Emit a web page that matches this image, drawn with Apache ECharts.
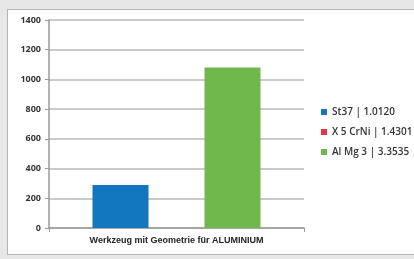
<!DOCTYPE html>
<html>
<head>
	<meta charset="utf-8" />
	<title>Werkzeug</title>
	<script src="https://cdn.jsdelivr.net/npm/echarts@6/dist/echarts.min.js"></script>
	<style>
		* { margin: 0; padding: 0; }
		html, body { width: 414px; height: 259px; background: #e7e7e7; overflow: hidden; }
		.frame {
			position: absolute; left: 7px; top: 9px; width: 420px; height: 244px;
			background: #fff; border: 1px solid #b4b4b4;
		}
		#main { position: absolute; left: 0; top: 0; width: 414px; height: 259px; }
	</style>
</head>
<body>
	<div class="frame"></div>
	<div id="main"></div>
	<script>
		// Daten
		var categories = ['Werkzeug mit Geometrie für ALUMINIUM'];
		var seriesNames = ['St37 | 1.0120', 'X 5 CrNi | 1.4301', 'Al Mg 3 | 3.3535'];
		var seriesColors = ['#1377bf', '#e5373c', '#70b84b'];
		var st37 = [290];
		var crni = [0];
		var almg = [1080];

		var chart = echarts.init(document.getElementById('main'));
		var values = [st37, crni, almg];
		var series = [];
		for (var i = 0; i < seriesNames.length; i++) {
			series.push({
				name: seriesNames[i],
				type: 'bar',
				barWidth: 56,
				barGap: '0%',
				itemStyle: { color: seriesColors[i] },
				data: values[i]
			});
		}

		var option = {
			animation: false,
			legend: {
				orient: 'vertical',
				left: 316,
				top: 102,
				itemWidth: 6,
				itemHeight: 6,
				itemGap: 10,
				icon: 'rect',
				textStyle: { fontSize: 10, color: '#333', fontFamily: 'Open Sans', fontWeight: 600 },
				data: seriesNames
			},
			grid: { left: 49, right: 110, top: 20, bottom: 31 },
			xAxis: {
				type: 'category',
				data: categories,
				axisLine: { lineStyle: { color: '#999', width: 1.5 } },
				axisTick: { show: true, length: 4, lineStyle: { color: '#999' } },
				axisLabel: { fontSize: 9, color: '#222', fontFamily: 'Liberation Sans', fontWeight: 'bold', margin: 8 }
			},
			yAxis: {
				type: 'value',
				min: 0,
				max: 1400,
				interval: 200,
				axisLine: { show: true, lineStyle: { color: '#999', width: 1.5 } },
				axisTick: { show: true, length: 4, lineStyle: { color: '#999' } },
				axisLabel: {
					fontSize: 9, color: '#333', fontFamily: 'Open Sans', fontWeight: 'bold', margin: 8,
					formatter: function (v) { return String(v); }
				},
				splitLine: { lineStyle: { color: '#b8b8b8', width: 1.5 } }
			},
			series: series
		};
		chart.setOption(option);
	</script>
</body>
</html>
